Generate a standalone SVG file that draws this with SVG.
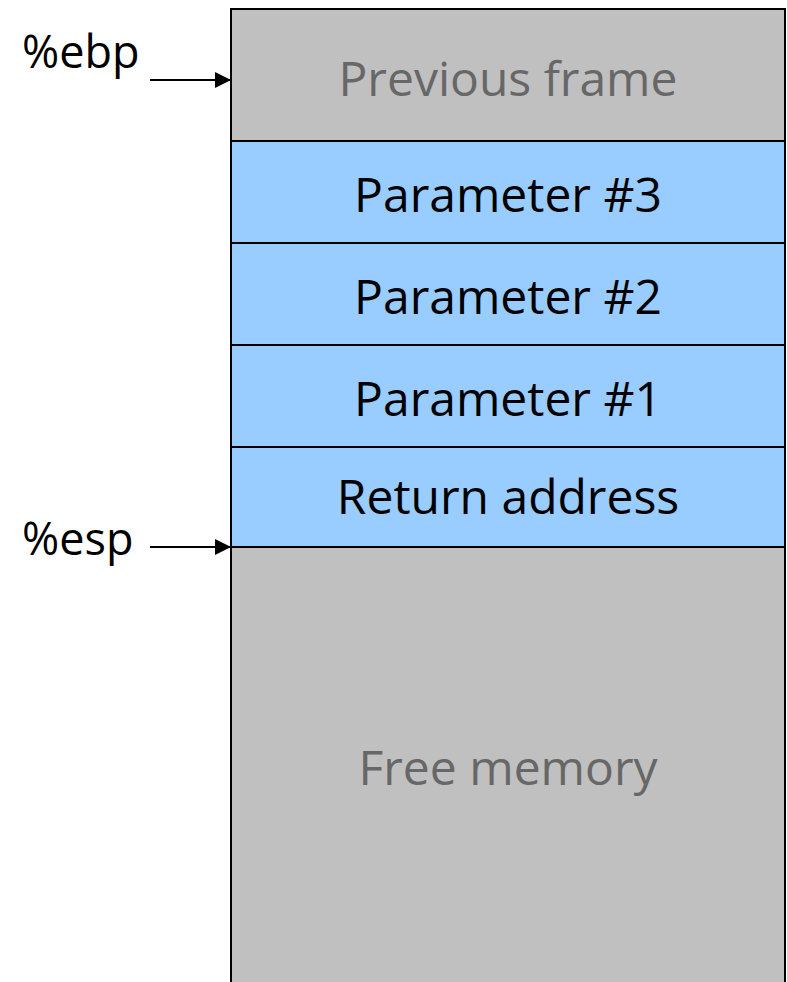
<svg xmlns="http://www.w3.org/2000/svg" width="787" height="982" viewBox="0 0 787 982">
<style>
.cell{stroke:#000;stroke-width:2}
.gray{fill:#c0c0c0}
.blue{fill:#99ccff}
text{font-family:"Open Sans",Lato,sans-serif;font-size:48px;text-anchor:middle}
.dim{fill:#676767}
.dark{fill:#000}
.lbl{text-anchor:start;fill:#000;font-size:45px}
.conn{stroke:#000;stroke-width:2;fill:none}
</style>
<defs>
<marker id="ah" viewBox="0 0 10 10" refX="10" refY="5" markerWidth="16" markerHeight="16" markerUnits="userSpaceOnUse" orient="auto">
<path d="M0,0 L10,5 L0,10 z" fill="#000"/>
</marker>
</defs>
<g id="free"><rect class="cell gray" x="231" y="547" width="554" height="445"/><text class="dim" x="508" y="785">Free memory</text></g>
<g id="prev"><rect class="cell gray" x="231" y="9" width="554" height="132"/><text class="dim" x="508" y="96">Previous frame</text></g>
<g id="p3"><rect class="cell blue" x="231" y="141" width="554" height="102"/><text class="dark" x="508" y="212">Parameter #3</text></g>
<g id="p2"><rect class="cell blue" x="231" y="243" width="554" height="102"/><text class="dark" x="508" y="314">Parameter #2</text></g>
<g id="p1"><rect class="cell blue" x="231" y="345" width="554" height="102"/><text class="dark" x="508" y="416">Parameter #1</text></g>
<g id="ret"><rect class="cell blue" x="231" y="447" width="554" height="100"/><text class="dark" x="508" y="514">Return address</text></g>
<g id="ebp"><text class="lbl" x="22" y="68">%ebp</text></g>
<g id="esp"><text class="lbl" x="22" y="555">%esp</text></g>
<g id="connectors">
<line class="conn" x1="150" y1="80" x2="231" y2="80" marker-end="url(#ah)"/>
<line class="conn" x1="150" y1="547" x2="231" y2="547" marker-end="url(#ah)"/>
</g>
</svg>
